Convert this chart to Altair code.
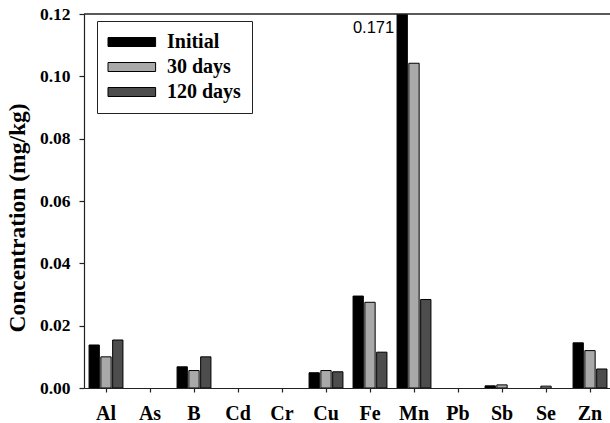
import altair as alt
import pandas as pd

elements = ["Al", "As", "B", "Cd", "Cr", "Cu", "Fe", "Mn", "Pb", "Sb", "Se", "Zn"]
series_names = ["Initial", "30 days", "120 days"]
initial = [0.0138, 0, 0.0068, 0, 0, 0.0049, 0.0295, 0.171, 0, 0.0007, 0, 0.0145]
days30 = [0.0100, 0, 0.0056, 0, 0, 0.0056, 0.0275, 0.1042, 0, 0.0010, 0.0006, 0.0120]
days120 = [0.0154, 0, 0.0100, 0, 0, 0.0052, 0.0115, 0.0284, 0, 0, 0, 0.0061]
colors = ["#000000", "#a9a9a9", "#4d4d4d"]
y_ticks = [0, 0.02, 0.04, 0.06, 0.08, 0.10, 0.12]

rows = []
for name, vals in zip(series_names, [initial, days30, days120]):
    for el, v in zip(elements, vals):
        rows.append({"element": el, "series": name, "value": v})
df = pd.DataFrame(rows)

serif = "Liberation Serif"
W, H = 526, 374

x_enc = alt.X("element:N", sort=elements,
              scale=alt.Scale(domain=elements, range=[0, 528], paddingInner=0.23, paddingOuter=0.115),
              axis=alt.Axis(title=None, labelAngle=0, labelFont=serif, labelFontSize=20,
                            labelFontWeight="bold", labelColor="black", labelPadding=11,
                            tickSize=4, tickColor="#222", domainColor="#222", domainWidth=1.2,
                            tickWidth=1.2))
xo_enc = alt.XOffset("series:N", sort=series_names,
                     scale=alt.Scale(domain=series_names, paddingInner=0.127, paddingOuter=0))
y_scale = alt.Scale(domain=[0, 0.12], nice=False, zero=True)

bars = alt.Chart(df).transform_filter("datum.value > 0").mark_bar(
    stroke="black", strokeWidth=1, clip=True
).encode(
    x=x_enc,
    xOffset=xo_enc,
    y=alt.Y("value:Q", scale=y_scale,
            axis=alt.Axis(title="Concentration (mg/kg)", values=y_ticks, format=".2f",
                          labelFont=serif, labelFontSize=17.5, labelFontWeight="bold",
                          labelColor="black", labelPadding=9, tickSize=5, tickColor="#222",
                          tickWidth=1.2, domainColor="#222", domainWidth=1.2,
                          titleFont=serif, titleFontSize=23.5, titleFontWeight="bold",
                          titleColor="black", titleX=-67, titleY=203.5,
                          titleBaseline="middle", titleAngle=-90)),
    fill=alt.Fill("series:N", sort=series_names,
                  scale=alt.Scale(domain=series_names, range=colors),
                  legend=alt.Legend(title=None, orient="none", legendX=13, legendY=7,
                                    direction="vertical", padding=11,
                                    strokeColor="#222", fillColor="white",
                                    symbolType="M-2,-0.9H7.52V0.9H-2Z", symbolSize=100,
                                    symbolStrokeColor="black", symbolStrokeWidth=1,
                                    symbolOpacity=1,
                                    labelFont=serif, labelFontSize=20, labelFontWeight="bold",
                                    labelColor="black", labelOffset=39, rowPadding=5)),
)

top_line = alt.Chart(pd.DataFrame({"v": [y_ticks[-1]]})).mark_rule(
    color="#222", strokeWidth=1.5
).encode(y=alt.Y("v:Q", scale=y_scale))

label = alt.Chart(df).transform_filter(
    "datum.element == 'Mn' && datum.series == 'Initial'"
).mark_text(
    align="right", baseline="alphabetic", dx=-8, dy=19,
    font="Liberation Sans", fontSize=16.5, color="black"
).encode(
    x=alt.X("element:N", sort=elements),
    xOffset=alt.XOffset("series:N", sort=series_names),
    y=alt.datum(0.12),
    text=alt.Text("value:Q", format=".3f"),
)

chart = alt.layer(bars, top_line, label).properties(
    width=W, height=H,
    autosize=alt.AutoSizeParams(type="none"),
    padding={"left": 84, "top": 14, "right": 0, "bottom": 35},
).configure_view(stroke=None).configure_axis(grid=False)

chart.save("out.html", embed_options={"renderer": "svg", "actions": False})
